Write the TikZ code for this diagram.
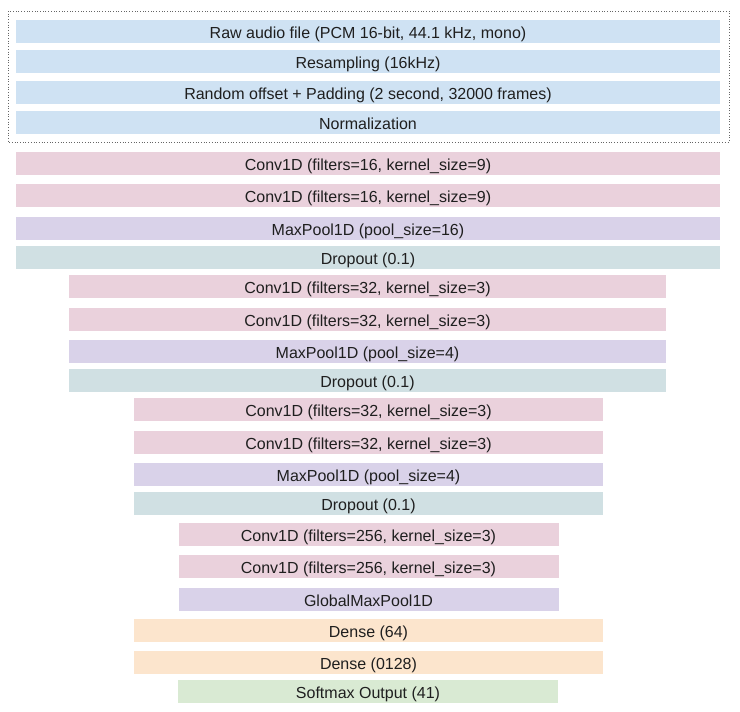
\documentclass[tikz,border=0pt]{standalone}
\usepackage{fontspec}
\setmainfont{Liberation Sans}
\definecolor{cblue}{HTML}{CFE2F3}
\definecolor{cpink}{HTML}{EAD1DC}
\definecolor{cpurple}{HTML}{D9D2E9}
\definecolor{cteal}{HTML}{D0E0E3}
\definecolor{corange}{HTML}{FCE5CD}
\definecolor{cgreen}{HTML}{D9EAD3}
\begin{document}
\begin{tikzpicture}[x=1pt,y=-1pt,
  bar/.style={inner sep=0pt, minimum height=23pt, text height=14pt, text depth=0pt, font=\fontsize{16}{18}\selectfont, text=black!88},
  w1/.style={bar, minimum width=704pt},
  w2/.style={bar, minimum width=597pt},
  w3/.style={bar, minimum width=469pt},
  w4/.style={bar, minimum width=380pt},
  frame/.style={draw=black!60, dotted, line width=0.7pt}]
\useasboundingbox (0,0) rectangle (740,712);
\draw[frame] (8,11) rectangle (729,142);
\node[w1, fill=cblue] (a1) at (368,31.5) {Raw audio file (PCM 16-bit, 44.1 kHz, mono)};
\node[w1, fill=cblue] (a2) at (368,61.5) {Resampling (16kHz)};
\node[w1, fill=cblue] (a3) at (368,92.5) {Random offset + Padding (2 second, 32000 frames)};
\node[w1, fill=cblue] (a4) at (368,122.5) {Normalization};
\node[w1, fill=cpink] (b1) at (368,163.5) {Conv1D (filters=16, kernel\_size=9)};
\node[w1, fill=cpink] (b2) at (368,195.5) {Conv1D (filters=16, kernel\_size=9)};
\node[w1, fill=cpurple] (b3) at (368,228.5) {MaxPool1D (pool\_size=16)};
\node[w1, fill=cteal] (b4) at (368,257.5) {Dropout (0.1)};
\node[w2, fill=cpink] (c1) at (367.5,286.5) {Conv1D (filters=32, kernel\_size=3)};
\node[w2, fill=cpink] (c2) at (367.5,319.5) {Conv1D (filters=32, kernel\_size=3)};
\node[w2, fill=cpurple] (c3) at (367.5,351.5) {MaxPool1D (pool\_size=4)};
\node[w2, fill=cteal] (c4) at (367.5,380.5) {Dropout (0.1)};
\node[w3, fill=cpink] (d1) at (368.5,409.5) {Conv1D (filters=32, kernel\_size=3)};
\node[w3, fill=cpink] (d2) at (368.5,442.5) {Conv1D (filters=32, kernel\_size=3)};
\node[w3, fill=cpurple] (d3) at (368.5,474.5) {MaxPool1D (pool\_size=4)};
\node[w3, fill=cteal] (d4) at (368.5,503.5) {Dropout (0.1)};
\node[w4, fill=cpink] (e1) at (368.5,534.5) {Conv1D (filters=256, kernel\_size=3)};
\node[w4, fill=cpink] (e2) at (368.5,566.5) {Conv1D (filters=256, kernel\_size=3)};
\node[w4, fill=cpurple] (e3) at (368.5,599.5) {GlobalMaxPool1D};
\node[w3, fill=corange] (f1) at (368.5,630.5) {Dense (64)};
\node[w3, fill=corange] (f2) at (368.5,662.5) {Dense (0128)};
\node[w4, fill=cgreen] (g1) at (368,691.5) {Softmax Output (41)};
\end{tikzpicture}
\end{document}
